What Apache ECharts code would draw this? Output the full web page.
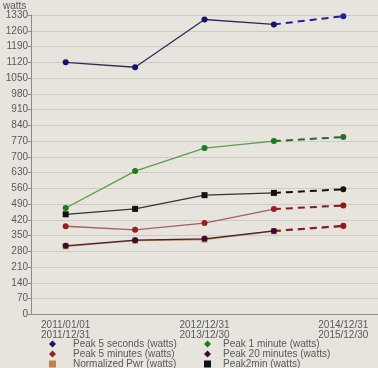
<!DOCTYPE html>
<html><head><meta charset="utf-8">
<script src="https://cdn.jsdelivr.net/npm/echarts@6/dist/echarts.min.js"></script>
<style>html,body{margin:0;padding:0;background:#e7e3dd}#c{width:378px;height:368px}</style>
</head><body><div id="c"></div>
<script>
var categories = ["2011/01/01\n2011/12/31", "2011/12/31\n2012/12/30", "2012/12/31\n2013/12/30", "2013/12/30\n2014/12/30", "2014/12/31\n2015/12/30"];
var yTickMax = 1330, yTickStep = 70;
var peak5s   = [1120, 1098, 1310, 1288, 1325];
var peak1m   = [473, 637, 739, 770, 788];
var peak5m   = [392, 376, 406, 468, 484];
var peak20m  = [305, 330, 336, 371, 394];
var normPwr  = [303, 328, 333, 370, 392];
var peak2min = [445, 469, 530, 540, 556];
var names = ["Peak 5 seconds (watts)", "Peak 1 minute (watts)", "Peak 5 minutes (watts)", "Peak 20 minutes (watts)", "Normalized Pwr (watts)", "Peak2min (watts)"];

var defs = [
  {data: peak5s,   line: '#2e2e5c', mark: '#14146e', dash: '#1f1fa3', sym: 'circle', legendIcon: 'diamond', z: 6},
  {data: peak1m,   line: '#5c9c4c', mark: '#1e7a1e', dash: '#2a6a2a', sym: 'circle', legendIcon: 'diamond', z: 5},
  {data: peak5m,   line: '#a46060', mark: '#9a2020', dash: '#8a1a1a', sym: 'circle', legendIcon: 'diamond', z: 4},
  {data: peak20m,  line: '#4a2030', mark: '#3a0a30', dash: '#8a1a24', sym: 'circle', legendIcon: 'diamond', z: 3},
  {data: normPwr,  line: '#c0844a', mark: '#c0844a', dash: '#c0844a', sym: 'rect', legendIcon: 'rect', z: 2},
  {data: peak2min, line: '#333333', mark: '#111111', dash: '#111111', sym: 'rect', legendIcon: 'rect', z: 3}
];

var series = [];
var legends = [];
var legendPos = [
  {left: 49, top: 339}, {left: 204, top: 339},
  {left: 49, top: 349}, {left: 204, top: 349},
  {left: 49, top: 359}, {left: 204, top: 359}
];
defs.forEach(function (d, i) {
  var solid = d.data.map(function (v, k) { return k <= 3 ? v : null; });
  var dashed = d.data.map(function (v, k) { return k >= 3 ? (k === 3 ? {value: v, symbol: 'none'} : v) : null; });
  series.push({
    name: names[i], type: 'line', data: solid, z: d.z,
    symbol: d.sym, symbolSize: 6, showAllSymbol: true,
    lineStyle: {color: d.line, width: 1.3}, itemStyle: {color: d.mark},
    emphasis: {disabled: true}, animation: false
  });
  series.push({
    name: names[i], type: 'line', data: dashed, z: d.z,
    symbol: 'circle', symbolSize: 6, showAllSymbol: true,
    lineStyle: {color: d.dash, width: 2, type: [7, 5]}, itemStyle: {color: d.dash},
    emphasis: {disabled: true}, animation: false
  });
  legends.push({
    data: [{name: names[i], icon: d.legendIcon, itemStyle: {color: d.mark}}],
    left: legendPos[i].left, top: legendPos[i].top,
    itemWidth: 7, itemHeight: 7, padding: 0, selectedMode: false,
    textStyle: {fontSize: 10, color: '#5a5a5a', fontFamily: 'Liberation Sans', padding: [0, 0, 0, i % 2 === 0 ? 12 : 7]}
  });
});

var chart = echarts.init(document.getElementById('c'));
chart.setOption({
  backgroundColor: '#e7e3dd',
  animation: false,
  title: {text: 'watts', left: 3, top: 1, padding: 0, textStyle: {fontSize: 10, fontWeight: 'normal', color: '#5a5a5a', fontFamily: 'Liberation Sans'}},
  legend: legends,
  grid: {left: 31, right: 0, top: 15, bottom: 53.5, containLabel: false},
  xAxis: {
    type: 'category', data: categories, boundaryGap: true,
    axisLine: {lineStyle: {color: '#8a8a8a'}},
    axisTick: {alignWithLabel: true, length: 4, lineStyle: {color: '#8a8a8a'}, interval: 1},
    axisLabel: {interval: 1, color: '#5a5a5a', fontSize: 10, lineHeight: 10, margin: 6, fontFamily: 'Liberation Sans'},
    splitLine: {show: false}
  },
  yAxis: {
    type: 'value', min: 0, max: yTickMax, interval: yTickStep,
    axisLine: {show: true, lineStyle: {color: '#8a8a8a'}},
    axisTick: {show: true, length: 3, lineStyle: {color: '#8a8a8a'}},
    axisLabel: {color: '#5a5a5a', fontSize: 10, margin: 3, fontFamily: 'Liberation Sans', formatter: function (v) { return String(v); }},
    splitLine: {lineStyle: {color: '#cfcbc3', width: 1}}
  },
  series: series
});
</script></body></html>
